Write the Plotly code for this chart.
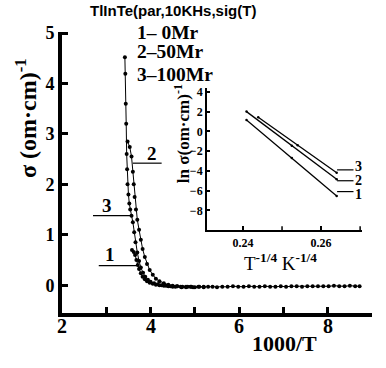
import plotly.graph_objects as go

# ---- main panel data (1000/T vs sigma) ----
x_c1 = [3.58, 3.62, 3.65, 3.68, 3.71, 3.74, 3.78, 3.82, 3.87, 3.92, 3.98, 4.05, 4.12, 4.20, 4.30, 4.40,
        4.50, 4.60, 4.70, 4.80, 4.90, 5.00, 5.10, 5.20, 5.30, 5.40, 5.50, 5.62, 5.74, 5.86, 5.98,
        6.10, 6.22, 6.34, 6.46, 6.58, 6.70, 6.82, 6.94, 7.06, 7.18, 7.30, 7.42, 7.54, 7.66, 7.78,
        7.90, 8.02, 8.14, 8.26, 8.38, 8.50, 8.62, 8.72]
y_c1 = [0.70, 0.66, 0.60, 0.50, 0.40, 0.32, 0.24, 0.17, 0.12, 0.08, 0.05, 0.03, 0.01, 0.00, -0.01, -0.02,
        -0.03, -0.02, -0.04, -0.03, -0.03, -0.04, -0.03, -0.04, -0.03, -0.03, -0.04, -0.03, -0.03, -0.02, -0.03,
        -0.03, -0.02, -0.03, -0.03, -0.02, -0.03, -0.03, -0.02, -0.03, -0.02, -0.02, -0.03, -0.02, -0.02, -0.02,
        -0.02, -0.02, -0.01, -0.02, -0.02, -0.01, -0.02, -0.02]

x_c2 = [3.48, 3.53, 3.57, 3.60, 3.62, 3.64, 3.67, 3.70, 3.74, 3.78, 3.82, 3.87, 3.92, 3.98, 4.05,
        4.12, 4.20, 4.30, 4.40, 4.50, 4.60, 4.72, 4.84, 4.96, 5.08, 5.20]
y_c2 = [2.85, 2.74, 2.55, 2.25, 2.00, 1.75, 1.50, 1.30, 1.10, 0.90, 0.72, 0.56, 0.42, 0.30, 0.21,
        0.13, 0.08, 0.04, 0.01, -0.01, -0.02, -0.03, -0.03, -0.04, -0.03, -0.03]

x_c3 = [3.42, 3.43, 3.44, 3.45, 3.46, 3.47, 3.48, 3.50, 3.52, 3.54, 3.57, 3.60, 3.63, 3.66, 3.70,
        3.74, 3.78, 3.83, 3.88, 3.94, 4.00, 4.08, 4.16, 4.25, 4.35, 4.45, 4.56, 4.68, 4.80, 4.92]
y_c3 = [4.52, 4.19, 3.60, 3.20, 2.60, 2.30, 2.00, 1.80, 1.62, 1.50, 1.38, 1.25, 1.05, 0.85, 0.65,
        0.48, 0.35, 0.25, 0.17, 0.11, 0.07, 0.04, 0.02, 0.00, -0.01, -0.02, -0.03, -0.03, -0.04, -0.03]

# ---- inset data (T^-1/4 vs ln sigma) ----
xi_1 = [0.2409, 0.2525, 0.2640]
yi_1 = [1.15, -2.70, -6.55]
xi_2 = [0.2409, 0.2525, 0.2640]
yi_2 = [2.00, -1.45, -4.86]
xi_3 = [0.2439, 0.2540, 0.2640]
yi_3 = [1.43, -1.40, -4.19]

main_xticks = [2, 3, 4, 5, 6, 7, 8, 9]
main_xlabel_vals = [2, 4, 6, 8]
main_xlabel_text = ["2", "4", "6", "8"]
main_yticks = [0, 1, 2, 3, 4, 5]
inset_xticks = [0.24, 0.26]
inset_xminor = [0.25, 0.27]
inset_yticks = [4, 2, 0, -2, -4, -6, -8]

SERIF = "Liberation Serif"
fig = go.Figure()

mk = dict(size=4, color="black", symbol="circle")
for xs, ys in [(x_c1, y_c1), (x_c2, y_c2), (x_c3, y_c3)]:
    fig.add_trace(go.Scatter(x=xs, y=ys, mode="lines+markers", line=dict(color="black", width=1),
                             marker=mk, showlegend=False, xaxis="x", yaxis="y"))

for xs, ys in [(xi_1, yi_1), (xi_2, yi_2), (xi_3, yi_3)]:
    fig.add_trace(go.Scatter(x=xs, y=ys, mode="lines+markers", line=dict(color="black", width=1.3),
                             marker=dict(size=2.5, color="black"), showlegend=False,
                             xaxis="x2", yaxis="y2"))

# main x tick labels placed close under the axis
for v, t in zip(main_xlabel_vals, main_xlabel_text):
    fig.add_annotation(x=v, y=-0.046, xref="x", yref="paper", text=t, showarrow=False,
                       xanchor="center", yanchor="middle",
                       font=dict(family=SERIF, size=20, color="black", weight="bold"))

# curve label pointer lines, main panel
for (x0, x1, yv) in [(3.60, 4.25, 2.42), (2.70, 3.60, 1.38), (2.83, 3.68, 0.39)]:
    fig.add_shape(type="line", x0=x0, x1=x1, y0=yv, y1=yv, xref="x", yref="y",
                  line=dict(color="black", width=1.2))
for (xv, yv, t) in [(4.04, 2.62, "2"), (3.01, 1.58, "3"), (3.08, 0.60, "1")]:
    fig.add_annotation(x=xv, y=yv, xref="x", yref="y", text=t, showarrow=False,
                       xanchor="center", yanchor="middle",
                       font=dict(family=SERIF, size=19, color="black", weight="bold"))

# inset minor ticks drawn as short marks on the inset x axis
for v in inset_xminor:
    fig.add_shape(type="line", x0=v, x1=v, y0=-10, y1=-9.6, xref="x2", yref="y2",
                  line=dict(color="black", width=1.5))

# inset label pointer lines
for (yl, yt, t) in [(-3.9, -3.6, "3"), (-5.0, -5.0, "2"), (-6.1, -6.4, "1")]:
    fig.add_shape(type="line", x0=0.2641, x1=0.2683, y0=yl, y1=yl, xref="x2", yref="y2",
                  line=dict(color="black", width=1.2))
    fig.add_annotation(x=0.2697, y=yt, xref="x2", yref="y2", text=t, showarrow=False,
                       xanchor="center", yanchor="middle",
                       font=dict(family=SERIF, size=14, color="black", weight="bold"))

# texts
fig.add_annotation(x=0.084, y=1.078, xref="paper", yref="paper", xanchor="left", yanchor="middle",
                   text="TlInTe(par,10KHs,sig(T)", showarrow=False,
                   font=dict(family="Liberation Sans", size=15, color="black", weight="bold"))
for (yv, t) in [(1.0, "1– 0Mr"), (0.929, "2–50Mr"), (0.85, "3–100Mr")]:
    fig.add_annotation(x=0.235, y=yv, xref="paper", yref="paper", xanchor="left", yanchor="middle",
                       text=t, showarrow=False,
                       font=dict(family=SERIF, size=19.5, color="black", weight="bold"))

fig.add_annotation(x=-0.116, y=0.694, xref="paper", yref="paper", textangle=-90,
                   xanchor="center", yanchor="middle",
                   text="σ (om·cm)<sup>-1</sup>", showarrow=False,
                   font=dict(family=SERIF, size=24, color="black", weight="bold"))
fig.add_annotation(x=0.719, y=-0.107, xref="paper", yref="paper",
                   xanchor="center", yanchor="middle",
                   text="1000/T", showarrow=False,
                   font=dict(family=SERIF, size=22, color="black", weight="bold"))
fig.add_annotation(x=0.387, y=0.640, xref="paper", yref="paper", textangle=-90,
                   xanchor="center", yanchor="middle",
                   text="ln σ(om·cm)<sup>-1</sup>", showarrow=False,
                   font=dict(family=SERIF, size=17, color="black", weight="bold"))
fig.add_annotation(x=0.706, y=0.181, xref="paper", yref="paper",
                   xanchor="center", yanchor="middle",
                   text="T<sup><b>-1/4</b></sup> K<sup><b>-1/4</b></sup>", showarrow=False,
                   font=dict(family=SERIF, size=19, color="black"))

fig.update_layout(
    width=386, height=368,
    margin=dict(l=62, r=14, t=32, b=55),
    paper_bgcolor="white", plot_bgcolor="white",
    xaxis=dict(range=[2, 9.0], tickvals=main_xticks, showticklabels=False,
               showline=True, linecolor="black", linewidth=4, ticks="inside", ticklen=6,
               tickwidth=2.5, tickcolor="black", showgrid=False, zeroline=False,
               domain=[0, 1]),
    yaxis=dict(range=[-0.55, 5.02], tickvals=main_yticks,
               showline=True, linecolor="black", linewidth=4, ticks="inside", ticklen=6,
               tickwidth=2.5, tickcolor="black", showgrid=False, zeroline=False,
               tickfont=dict(family=SERIF, size=18, color="black", weight="bold"),
               domain=[0, 1]),
    xaxis2=dict(range=[0.2308, 0.2705], tickvals=inset_xticks,
                domain=[0.468, 0.968], anchor="y2",
                showline=True, linecolor="black", linewidth=2, ticks="inside", ticklen=4,
                tickwidth=1.5, tickcolor="black", showgrid=False, zeroline=False,
                tickfont=dict(family=SERIF, size=12, color="black", weight="bold")),
    yaxis2=dict(range=[-10, 4.4], tickvals=inset_yticks,
                domain=[0.295, 0.801], anchor="x2",
                showline=True, linecolor="black", linewidth=2, ticks="inside", ticklen=3,
                tickwidth=1.5, tickcolor="black", showgrid=False, zeroline=False,
                tickfont=dict(family=SERIF, size=12, color="black", weight="bold")),
)

fig.write_html("out.html", config={"displayModeBar": False},
               post_script="document.body.style.margin='0';")
